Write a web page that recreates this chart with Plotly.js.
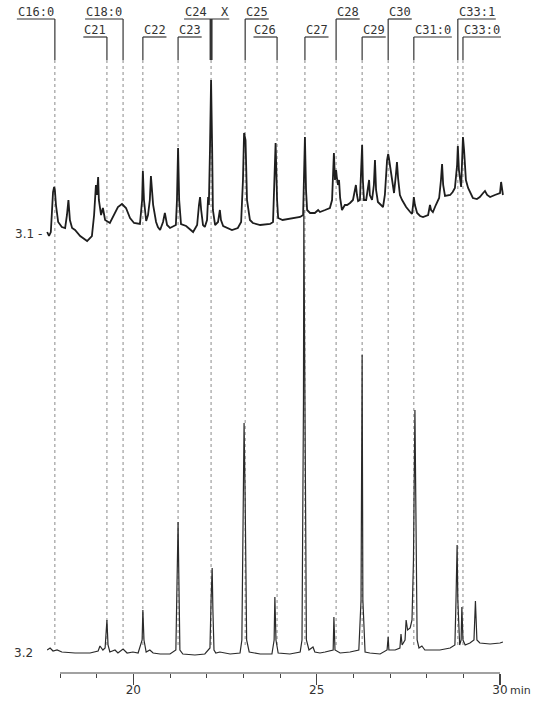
<!DOCTYPE html>
<html>
<head>
<meta charset="utf-8">
<script src="https://cdn.plot.ly/plotly-3.0.1.min.js"></script>
<style>html,body{margin:0;padding:0;background:#fff;}#chart{width:539px;height:702px;}</style>
</head>
<body>
<div id="chart"></div>
<script>
// ---- Trace 3.1 (retention time, min / detector response, arbitrary units) ----
const time31 = [17.65,17.70,17.75,17.78,17.81,17.84,17.86,17.89,17.95,18.05,18.14,18.19,18.23,18.27,18.33,18.41,18.55,18.74,18.87,18.93,18.98,19.01,19.04,19.06,19.12,19.17,19.23,19.36,19.47,19.58,19.69,19.80,19.91,20.02,20.18,20.24,20.26,20.29,20.35,20.40,20.45,20.48,20.54,20.62,20.67,20.73,20.81,20.86,20.92,21.00,21.16,21.19,21.22,21.25,21.30,21.44,21.63,21.74,21.79,21.82,21.85,21.90,21.95,22.01,22.04,22.06,22.09,22.12,22.15,22.17,22.23,22.31,22.36,22.39,22.45,22.58,22.69,22.85,22.94,22.99,23.02,23.06,23.07,23.10,23.18,23.26,23.46,23.73,23.81,23.84,23.88,23.92,23.95,24.07,24.27,24.55,24.63,24.65,24.68,24.71,24.74,24.82,24.95,25.04,25.09,25.23,25.36,25.42,25.45,25.47,25.50,25.53,25.55,25.58,25.61,25.64,25.69,25.77,25.83,25.91,25.99,26.05,26.07,26.10,26.13,26.18,26.21,26.24,26.26,26.29,26.35,26.40,26.43,26.45,26.51,26.56,26.59,26.62,26.67,26.81,26.86,26.92,26.95,26.97,27.03,27.08,27.11,27.16,27.19,27.22,27.27,27.33,27.44,27.55,27.60,27.63,27.65,27.68,27.74,27.82,27.90,28.04,28.09,28.12,28.17,28.25,28.34,28.39,28.42,28.45,28.50,28.64,28.71,28.77,28.83,28.85,28.88,28.94,28.96,28.99,29.02,29.07,29.13,29.26,29.37,29.45,29.54,29.59,29.65,29.73,29.86,30.00,30.03,30.05,30.08];
const signal31 = [441,437,441,458,481,486,483,468,451,446,445,458,473,453,445,443,437,432,437,458,488,478,496,473,458,465,453,450,458,466,469,465,455,450,449,473,502,473,452,458,473,497,468,451,446,443,451,460,448,445,448,473,525,473,449,447,441,448,468,476,463,448,446,453,476,468,523,593,523,463,448,451,463,453,447,445,443,445,451,493,540,533,523,473,453,450,448,449,451,483,530,473,455,453,454,456,458,493,536,483,463,460,460,463,461,463,465,473,498,520,493,503,496,488,493,475,463,468,468,470,473,485,488,478,472,473,498,528,493,473,473,483,493,478,473,488,513,483,471,466,478,513,519,515,498,488,480,498,511,495,478,473,466,461,459,468,476,468,460,457,456,458,468,463,461,468,475,493,509,488,477,478,481,485,508,527,503,486,508,536,523,493,485,475,474,476,480,482,478,476,478,480,491,487,478];

// ---- Trace 3.2 ----
const time32 = [17.65,17.73,17.81,17.92,18.05,18.41,18.82,19.04,19.09,19.17,19.23,19.25,19.28,19.31,19.36,19.50,19.58,19.72,19.83,19.99,20.13,20.24,20.26,20.29,20.35,20.45,20.54,20.73,21.00,21.16,21.19,21.22,21.25,21.27,21.35,21.68,21.95,22.09,22.12,22.15,22.17,22.20,22.25,22.36,22.64,22.91,22.96,23.00,23.02,23.05,23.09,23.16,23.46,23.78,23.84,23.86,23.89,23.95,24.27,24.55,24.60,24.64,24.65,24.68,24.72,24.79,24.90,24.95,25.09,25.23,25.45,25.47,25.50,25.64,25.91,26.15,26.21,26.24,26.26,26.32,26.45,26.73,26.92,26.95,26.97,27.14,27.27,27.30,27.33,27.41,27.44,27.48,27.55,27.60,27.64,27.68,27.71,27.74,27.79,27.87,27.95,28.09,28.36,28.64,28.77,28.80,28.83,28.85,28.90,28.94,28.96,28.99,29.05,29.18,29.29,29.33,29.37,29.45,29.73,30.00,30.08];
const signal32 = [23,25,22,23,21,20,20,22,27,23,25,33,53,28,21,23,20,24,20,21,20,33,63,33,21,23,20,19,19,23,73,151,73,23,19,18,19,25,73,105,63,23,20,21,19,20,33,173,250,173,33,21,19,19,33,76,33,20,19,21,33,273,463,273,33,23,26,21,20,21,23,56,23,20,21,23,73,318,73,21,20,19,23,36,23,23,25,39,28,33,53,43,45,53,113,263,173,33,25,27,23,23,23,25,28,73,128,73,28,33,66,33,28,30,33,72,33,30,29,30,31];

// ---- Peak identifications ----
const peakLabels = ['C16:0','C21','C18:0','C22','C23','C24  X','C25','C26','C27','C28','C29','C30','C31:0','C33:1','C33:0'];
const peakTimes  = [17.86,19.28,19.72,20.26,21.22,22.12,23.05,23.92,24.68,25.53,26.24,26.95,27.65,28.85,28.99];

// ---- Axis ticks ----
const majorTicks = [20,25,30];
const majorTickText = ['20','25','30'];
const minorTicks = [18,19,21,22,23,24,26,27,28,29];

// ---- layout helpers (styling only) ----
const labelRow  = [1,2,1,2,2,1,1,2,2,1,2,1,2,1,2];
const labelSide = ['r','r','r','l','l','c','l','r','l','l','l','l','l','l','l'];
const rowLineY = {1: 654, 2: 636};
const bracketBottom = 613, dotBottom = 28;
const charW = 7.2;

const shapes = [];
const annotations = [];

peakTimes.forEach((t, i) => {
  const yl = rowLineY[labelRow[i]];
  const w = peakLabels[i].length * charW + 2;
  shapes.push({type:'line', layer:'below', xref:'x', yref:'y', x0:t, x1:t, y0:dotBottom, y1:bracketBottom,
    line:{color:'#8a8a8a', width:1, dash:'dot'}});
  shapes.push({type:'line', xref:'x', yref:'y', x0:t, x1:t, y0:bracketBottom, y1:yl,
    line:{color:'#333', width: labelSide[i]==='c' ? 3 : 1.2}});
  let x0, x1, xanchor, xshift;
  if (labelSide[i] === 'r') { x0 = -w; x1 = 0; xanchor = 'right'; xshift = 1; }
  else if (labelSide[i] === 'l') { x0 = 0; x1 = w; xanchor = 'left'; xshift = -1; }
  else { x0 = -27; x1 = w - 27; xanchor = 'left'; xshift = -28; }
  shapes.push({type:'line', xref:'x', yref:'y', xsizemode:'pixel', xanchor:t, x0:x0, x1:x1, y0:yl, y1:yl,
    line:{color:'#333', width:1.2}});
  annotations.push({x:t, y:yl, xref:'x', yref:'y', text:peakLabels[i], showarrow:false,
    xanchor:xanchor, yanchor:'bottom', xshift:xshift, yshift:-2,
    font:{family:'DejaVu Sans Mono', size:12, color:'#333'}});
});

shapes.push({type:'line', xref:'x', yref:'paper', x0:18, x1:30, y0:0, y1:0, line:{color:'#444', width:1.2}});

annotations.push({xref:'paper', yref:'y', x:0.025, y:439, xanchor:'left', text:'3.1 -', showarrow:false,
  font:{family:'DejaVu Sans', size:12, color:'#333'}});
annotations.push({xref:'paper', yref:'y', x:0.022, y:20, xanchor:'left', text:'3.2', showarrow:false,
  font:{family:'DejaVu Sans', size:12, color:'#333'}});
annotations.push({xref:'x', yref:'paper', x:30, y:0, xanchor:'left', yanchor:'top', xshift:8, yshift:-9,
  text:'min', showarrow:false, font:{family:'DejaVu Sans', size:11, color:'#333'}});

const data = [
  {x: time31, y: signal31, type:'scatter', mode:'lines', name:'3.1',
   line:{color:'#1e1e1e', width:1.8}, hoverinfo:'x+y'},
  {x: time32, y: signal32, type:'scatter', mode:'lines', name:'3.2',
   line:{color:'#2a2a2a', width:1.2}, hoverinfo:'x+y'}
];

const layout = {
  width:539, height:702,
  margin:{l:0, r:0, t:0, b:29, pad:0},
  paper_bgcolor:'#fff', plot_bgcolor:'#fff',
  showlegend:false,
  xaxis:{range:[16.3636, 31.0636], showgrid:false, zeroline:false, showline:false,
    tickmode:'array', tickvals:majorTicks, ticktext:majorTickText,
    ticks:'outside', ticklen:11, tickwidth:1.2, tickcolor:'#444',
    ticklabelstandoff:-5,
    tickfont:{family:'DejaVu Sans', size:12, color:'#333'},
    minor:{tickmode:'array', tickvals:minorTicks, ticks:'outside', ticklen:4, tickwidth:1, tickcolor:'#444', showgrid:false}},
  yaxis:{range:[0,673], visible:false, fixedrange:true},
  shapes: shapes,
  annotations: annotations
};

Plotly.newPlot('chart', data, layout, {displayModeBar:false, staticPlot:true});
</script>
</body>
</html>
